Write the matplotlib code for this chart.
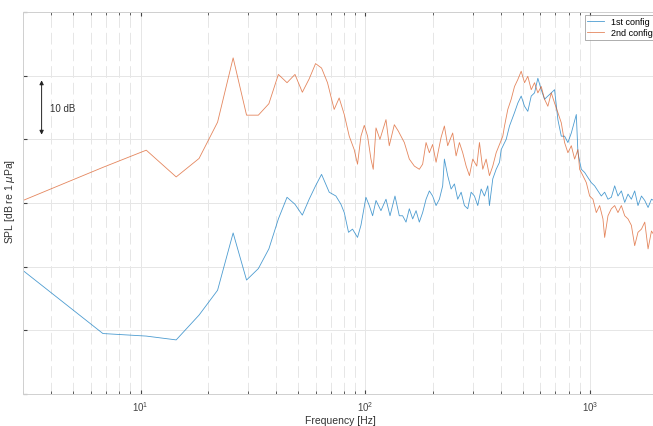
import numpy as np
import matplotlib.pyplot as plt
from matplotlib.ticker import LogLocator, NullFormatter, LogFormatterMathtext

plt.rcParams['font.family'] = ['Liberation Sans', 'DejaVu Sans']

# 1st config spectrum (Hz, dB)
freq_1st = [3.0, 6.8, 10.6, 14.4, 18.2, 22.0, 25.8, 29.6, 33.4, 37.2, 41.0, 44.8, 48.6, 52.4, 56.2,
            60.0, 63.8, 69.0, 73.9, 77.8, 80.5, 84.1, 87.6, 92.2, 95.5, 100.5, 104.0, 107.6, 111.4,
            117.2, 123.4, 128.6, 135.3, 141.4, 146.3, 151.5, 156.7, 162.2, 167.9, 173.6, 179.6, 186.0,
            192.4, 199.0, 206.1, 213.2, 220.5, 224.4, 232.1, 240.4, 248.7, 257.2, 266.4, 275.5, 285.0,
            295.1, 305.2, 315.8, 327.0, 338.2, 349.9, 355.9, 368.3, 381.3, 394.5, 401.5, 422.5, 437.1,
            460.1, 476.0, 492.7, 509.7, 527.2, 546.0, 564.8, 584.3, 604.9, 625.8, 647.3, 670.4, 693.4,
            717.3, 742.7, 768.3, 794.8, 823.1, 866.3, 880.7, 912.0, 943.4, 975.7, 1010, 1045, 1081,
            1119, 1158, 1198, 1240, 1283, 1327, 1374, 1422, 1471, 1522, 1575, 1629, 1688, 1746, 1806,
            1870, 2000]
spl_1st = [69.4, 59.5, 59.1, 58.5, 62.4, 66.3, 75.3, 67.9, 69.7, 72.8, 77.5, 80.9, 79.8, 78.1, 80.6,
           82.7, 84.5, 81.7, 81.1, 79.8, 78.5, 75.4, 75.9, 74.6, 76.5, 80.9, 79.6, 78.0, 80.4,
           78.8, 80.6, 78.0, 81.1, 78.0, 78.0, 77.0, 79.1, 77.5, 78.8, 77.0, 78.5, 80.6,
           81.9, 81.1, 79.6, 80.6, 82.7, 86.9, 84.3, 82.2, 83.0, 80.6, 81.7, 79.6, 79.1,
           81.7, 81.1, 79.6, 82.2, 81.1, 82.7, 79.6, 83.8, 85.3, 86.4, 88.4, 90.0, 92.1,
           94.2, 95.7, 96.8, 95.2, 94.4, 96.8, 97.3, 99.6, 97.8, 96.3, 96.8, 97.3, 97.8,
           93.1, 90.5, 90.5, 89.5, 91.0, 93.9, 87.9, 85.3, 84.8, 84.0, 83.2, 82.7, 81.9,
           81.1, 81.7, 80.6, 80.9, 82.7, 81.1, 81.9, 80.1, 81.4, 80.6, 81.9, 79.6, 81.1, 80.4, 79.3,
           80.6, 80.0]

# 2nd config spectrum (Hz, dB)
freq_2nd = [3.0, 6.8, 10.6, 14.4, 18.2, 22.0, 25.8, 29.6, 33.4, 37.2, 41.0, 44.8, 48.6, 52.4, 56.2,
            60.0, 63.8, 67.8, 72.6, 76.4, 80.5, 84.7, 89.1, 92.2, 95.5, 98.8, 102.2, 105.8, 108.3,
            111.4, 116.0, 123.4, 127.6, 134.4, 140.0, 148.9, 156.7, 165.0, 173.6, 179.6, 186.0, 192.4,
            199.0, 206.1, 216.9, 224.4, 232.1, 244.3, 253.0, 261.7, 270.7, 280.4, 290.0, 300.0, 312.6,
            321.3, 332.4, 344.1, 355.9, 368.3, 381.3, 394.5, 408.1, 415.3, 429.5, 444.7, 460.1, 476.0,
            492.7, 509.7, 527.2, 546.0, 564.8, 584.3, 604.9, 625.8, 647.3, 670.4, 693.4, 717.3, 742.7,
            768.3, 794.8, 823.1, 851.4, 880.7, 896.1, 926.8, 959.8, 992.9, 1027, 1063, 1100, 1138,
            1158, 1198, 1240, 1283, 1327, 1374, 1422, 1471, 1522, 1575, 1629, 1688, 1746, 1806, 1870,
            2000]
spl_2nd = [80.4, 85.6, 88.3, 84.1, 87.0, 92.7, 102.8, 93.8, 93.8, 95.6, 100.2, 98.9, 100.2, 97.4, 99.5,
           101.9, 101.2, 98.9, 94.7, 96.5, 93.9, 90.5, 88.4, 86.1, 90.5, 92.2, 90.5, 86.9, 85.3,
           91.8, 90.0, 93.1, 89.0, 92.3, 91.3, 89.5, 86.9, 85.8, 85.3, 86.1, 89.5, 87.9,
           89.2, 86.4, 90.3, 92.1, 89.0, 91.0, 87.4, 89.5, 87.9, 85.8, 84.3, 86.9, 85.8,
           89.5, 85.3, 86.9, 84.3, 85.8, 87.9, 89.2, 90.5, 92.1, 94.7, 96.3, 98.3, 99.4,
           100.7, 98.9, 99.9, 97.8, 98.9, 97.3, 98.3, 96.3, 95.2, 97.3, 95.7, 94.2, 92.6,
           89.5, 87.9, 89.0, 86.9, 88.4, 85.3, 84.3, 83.2, 81.1, 80.6, 78.5, 79.6, 77.5,
           74.6, 78.0, 79.1, 79.6, 78.5, 79.6, 78.0, 77.5, 76.5, 73.3, 75.4, 75.9, 77.0, 72.8, 75.6,
           74.0]

series_labels = ['1st config', '2nd config']
blue = '#0072BD'
orange = '#D95319'

fig = plt.figure(figsize=(6.53, 4.27), dpi=100)
ax = fig.add_axes([0.0352, 0.0749, 0.9725, 0.8946])

ax.semilogx(freq_1st, spl_1st, color=blue, lw=0.6, alpha=0.7, label=series_labels[0])
ax.semilogx(freq_2nd, spl_2nd, color=orange, lw=0.6, alpha=0.7, label=series_labels[1])

ax.set_xlim(3, 2000)
ax.set_ylim(50, 110)
ax.set_yticks(np.arange(50, 111, 10))
ax.set_yticklabels([])

ax.xaxis.set_major_locator(LogLocator(base=10))
ax.xaxis.set_major_formatter(LogFormatterMathtext())
ax.xaxis.set_minor_locator(LogLocator(base=10, subs=np.arange(2, 10)))
ax.xaxis.set_minor_formatter(NullFormatter())

ax.grid(True, which='major', color='#e6e6e6', lw=0.7)
ax.grid(True, which='minor', axis='x', color='#e2e2e2', lw=0.6, linestyle=(0, (14, 6)))
ax.set_axisbelow(True)

ax.tick_params(which='both', direction='in', top=True, right=True, labelsize=7, colors='#444444',
               length=3)
ax.tick_params(which='minor', length=2)
for sp in ax.spines.values():
    sp.set_color('#d0d0d0')
    sp.set_linewidth(0.7)

ax.set_xlabel('Frequency [Hz]', fontsize=7.5, color='#333333', labelpad=1.5)
fig.text(10 / 653, 0.528, r'SPL [dB re 1 $\mu$Pa]', rotation=90, fontsize=7.5, color='#333333',
         ha='center', va='center')

# 10 dB scale bar
ax.annotate('', xy=(3.63, 90.3), xytext=(3.63, 99.7),
            arrowprops=dict(arrowstyle='<|-|>', color='#222222', lw=0.7, mutation_scale=6))
ax.text(3.95, 95, '10 dB', fontsize=7, va='center', ha='left', color='#333333')

leg = ax.legend(loc='upper right', fontsize=6.5, frameon=True, fancybox=False, handlelength=1.8,
                borderaxespad=0.3, labelspacing=0.2, borderpad=0.3)
leg.get_frame().set_edgecolor('#888888')
leg.get_frame().set_linewidth(0.6)

fig.savefig('out.png', dpi=100)
